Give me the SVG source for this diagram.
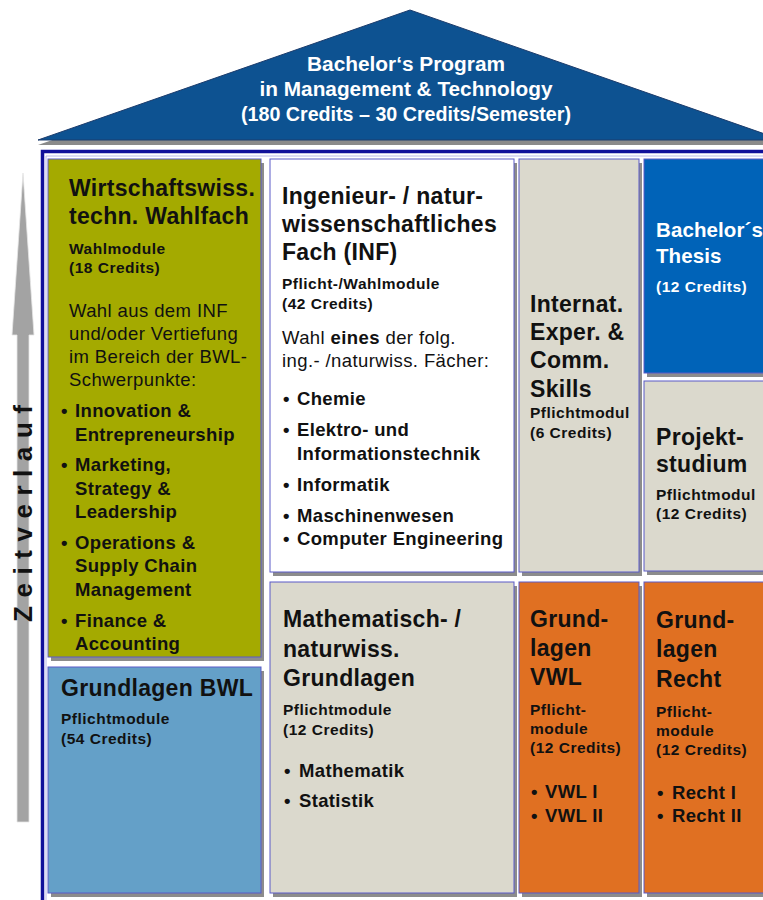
<svg xmlns="http://www.w3.org/2000/svg" width="763" height="900" viewBox="0 0 763 900">
<style>
text{font-family:"Liberation Sans",Arial,sans-serif;fill:#111}
.roof{font-weight:bold;font-size:20px;fill:#fff;text-anchor:middle}
.t{font-weight:bold;font-size:23px;letter-spacing:0.3px}
.tt{font-weight:bold;font-size:20.5px;letter-spacing:0.1px;fill:#fff}
.s{font-weight:bold;font-size:15.5px;letter-spacing:0.5px}
.sw{font-weight:bold;font-size:15.5px;letter-spacing:0.5px;fill:#fff}
.r{font-size:18.5px;letter-spacing:0.4px}
.b{font-weight:bold;font-size:18.5px;letter-spacing:0.35px}
.box{stroke:#5a5ac8;stroke-width:1}
.sh{fill:#8c8c8c}
</style>
<rect width="763" height="900" fill="#fff"/>
<g id="roof">
<polygon points="38,145 410,15 782,145" fill="#8a8a8a"/>
<polygon points="38,140 410,10 782,140" fill="#0d5291" stroke="#1c3c6c" stroke-width="1"/>
<text class="roof" x="406" y="71" textLength="198" lengthAdjust="spacingAndGlyphs">Bachelor‘s Program</text>
<text class="roof" x="406" y="96" textLength="293" lengthAdjust="spacingAndGlyphs">in Management &amp; Technology</text>
<text class="roof" x="406" y="121" textLength="330" lengthAdjust="spacingAndGlyphs">(180 Credits – 30 Credits/Semester)</text>
</g>
<g id="frame">
<path d="M46,900 V156 H763" fill="none" stroke="#b8b8e8" stroke-width="1"/>
<path d="M42.5,900 V151.5 H763" fill="none" stroke="#10109a" stroke-width="3.5"/>
</g>
<g id="zeitverlauf">
<polygon points="23,173 34,335 29,335 29,822 17,822 17,335 12,335" fill="#a3a3a3" stroke="#e6e6e6" stroke-width="0.8"/>
<text x="32" y="513.5" transform="rotate(-90 32 513.5)" font-weight="bold" font-size="26" text-anchor="middle" textLength="217" lengthAdjust="spacing">Zeitverlauf</text>
</g>
<g id="wahlfach">
<rect class="sh" x="51" y="163" width="213" height="498"/>
<rect class="box" x="48" y="159" width="213" height="498" fill="#a4aa00"/>
<text class="t" x="69" y="196">Wirtschaftswiss.</text>
<text class="t" x="69" y="224">techn. Wahlfach</text>
<text class="s" x="69" y="254">Wahlmodule</text>
<text class="s" x="69" y="273">(18 Credits)</text>
<text class="r" x="69" y="317">Wahl aus dem INF</text>
<text class="r" x="69" y="340">und/oder Vertiefung</text>
<text class="r" x="69" y="363">im Bereich der BWL-</text>
<text class="r" x="69" y="386">Schwerpunkte:</text>
<text class="b" x="61" y="417">•</text><text class="b" x="75" y="417">Innovation &amp;</text>
<text class="b" x="75" y="441">Entrepreneurship</text>
<text class="b" x="61" y="471">•</text><text class="b" x="75" y="471">Marketing,</text>
<text class="b" x="75" y="495">Strategy &amp;</text>
<text class="b" x="75" y="518">Leadership</text>
<text class="b" x="61" y="549">•</text><text class="b" x="75" y="549">Operations &amp;</text>
<text class="b" x="75" y="572">Supply Chain</text>
<text class="b" x="75" y="596">Management</text>
<text class="b" x="61" y="627">•</text><text class="b" x="75" y="627">Finance &amp;</text>
<text class="b" x="75" y="650">Accounting</text>
</g>
<g id="grundlagen-bwl">
<rect class="sh" x="51" y="671" width="213" height="226"/>
<rect class="box" x="48" y="667" width="213" height="226" fill="#64a0c8"/>
<text class="t" x="61" y="696">Grundlagen BWL</text>
<text class="s" x="61" y="724">Pflichtmodule</text>
<text class="s" x="61" y="744">(54 Credits)</text>
</g>
<g id="inf">
<rect class="sh" x="273" y="163" width="244" height="413"/>
<rect class="box" x="270" y="159" width="244" height="413" fill="#fff"/>
<text class="t" x="282" y="204">Ingenieur- / natur-</text>
<text class="t" x="282" y="232">wissenschaftliches</text>
<text class="t" x="282" y="260">Fach (INF)</text>
<text class="s" x="282" y="289">Pflicht-/Wahlmodule</text>
<text class="s" x="282" y="309">(42 Credits)</text>
<text class="r" x="282" y="344">Wahl <tspan font-weight="bold">eines</tspan> der folg.</text>
<text class="r" x="282" y="367">ing.- /naturwiss. Fächer:</text>
<text class="b" x="283" y="405">•</text><text class="b" x="297" y="405">Chemie</text>
<text class="b" x="283" y="436">•</text><text class="b" x="297" y="436">Elektro- und</text>
<text class="b" x="297" y="460">Informationstechnik</text>
<text class="b" x="283" y="491">•</text><text class="b" x="297" y="491">Informatik</text>
<text class="b" x="283" y="522">•</text><text class="b" x="297" y="522">Maschinenwesen</text>
<text class="b" x="283" y="545">•</text><text class="b" x="297" y="545">Computer Engineering</text>
</g>
<g id="math">
<rect class="sh" x="273" y="586" width="244" height="311"/>
<rect class="box" x="270" y="582" width="244" height="311" fill="#dbd9cd"/>
<text class="t" x="283" y="627">Mathematisch- /</text>
<text class="t" x="283" y="657">naturwiss.</text>
<text class="t" x="283" y="686">Grundlagen</text>
<text class="s" x="283" y="715">Pflichtmodule</text>
<text class="s" x="283" y="735">(12 Credits)</text>
<text class="b" x="284" y="777">•</text><text class="b" x="299" y="777">Mathematik</text>
<text class="b" x="284" y="807">•</text><text class="b" x="299" y="807">Statistik</text>
</g>
<g id="internat">
<rect class="sh" x="522" y="163" width="120" height="413"/>
<rect class="box" x="519" y="159" width="120" height="413" fill="#dbd9cd"/>
<text class="t" x="530" y="312">Internat.</text>
<text class="t" x="530" y="340">Exper. &amp;</text>
<text class="t" x="530" y="368">Comm.</text>
<text class="t" x="530" y="397">Skills</text>
<text class="s" x="530" y="418">Pflichtmodul</text>
<text class="s" x="530" y="438">(6 Credits)</text>
</g>
<g id="thesis">
<rect class="sh" x="647" y="163" width="130" height="214"/>
<rect class="box" x="644" y="159" width="130" height="214" fill="#0063b8"/>
<text class="tt" x="656" y="237">Bachelor´s</text>
<text class="tt" x="656" y="263">Thesis</text>
<text class="sw" x="656" y="292">(12 Credits)</text>
</g>
<g id="projektstudium">
<rect class="sh" x="647" y="385" width="130" height="190"/>
<rect class="box" x="644" y="381" width="130" height="190" fill="#dbd9cd"/>
<text class="t" x="656" y="445">Projekt-</text>
<text class="t" x="656" y="472">studium</text>
<text class="s" x="656" y="500">Pflichtmodul</text>
<text class="s" x="656" y="519">(12 Credits)</text>
</g>
<g id="vwl">
<rect class="sh" x="522" y="586" width="120" height="311"/>
<rect class="box" x="519" y="582" width="120" height="311" fill="#e07022"/>
<text class="t" x="530" y="627">Grund-</text>
<text class="t" x="530" y="656">lagen</text>
<text class="t" x="530" y="685">VWL</text>
<text class="s" x="530" y="715">Pflicht-</text>
<text class="s" x="530" y="734">module</text>
<text class="s" x="530" y="753">(12 Credits)</text>
<text class="b" x="531" y="798">•</text><text class="b" x="545" y="798">VWL I</text>
<text class="b" x="531" y="822">•</text><text class="b" x="545" y="822">VWL II</text>
</g>
<g id="recht">
<rect class="sh" x="647" y="586" width="130" height="311"/>
<rect class="box" x="644" y="582" width="130" height="311" fill="#e07022"/>
<text class="t" x="656" y="628">Grund-</text>
<text class="t" x="656" y="657">lagen</text>
<text class="t" x="656" y="687">Recht</text>
<text class="s" x="656" y="717">Pflicht-</text>
<text class="s" x="656" y="736">module</text>
<text class="s" x="656" y="755">(12 Credits)</text>
<text class="b" x="657" y="799">•</text><text class="b" x="672" y="799">Recht I</text>
<text class="b" x="657" y="822">•</text><text class="b" x="672" y="822">Recht II</text>
</g>
</svg>
